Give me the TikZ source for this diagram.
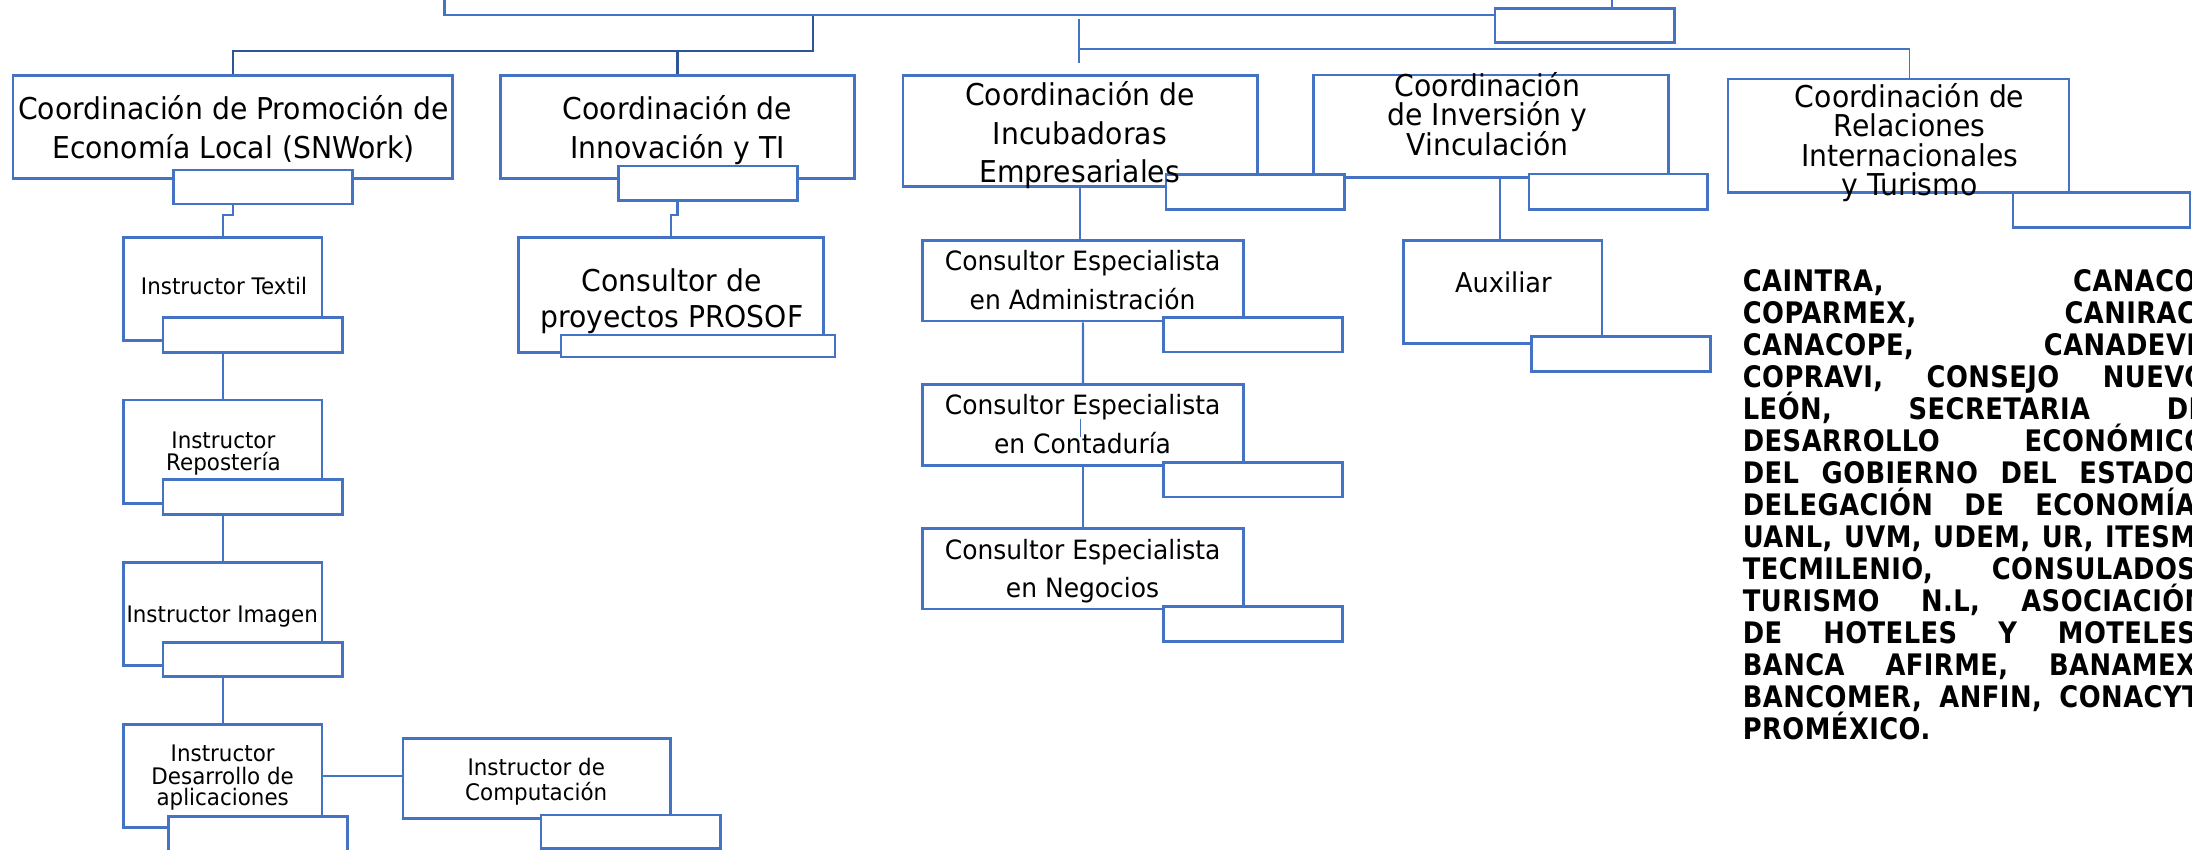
\documentclass[tikz,border=0pt]{standalone}
\usepackage{fontspec}
\setmainfont{DejaVu Sans}[FakeStretch=0.94]
\newfontfamily\blockfont{DejaVu Sans}[FakeStretch=0.87,LetterSpace=1.5]
\definecolor{ob}{HTML}{4472C4}
\definecolor{odark}{HTML}{2F5597}
\pgfdeclarelayer{bg}
\pgfsetlayers{bg,main}
\tikzset{
  box/.style={draw=ob, line width=1.9pt, rectangle, inner sep=0pt, fill=white},
  conn/.style={draw=ob, line width=1.6pt},
  darkconn/.style={draw=odark, line width=1.8pt},
  thinconn/.style={draw=ob, line width=1.1pt},
  ta/.style={anchor=base, inner sep=0pt, font=\fontsize{21.5}{26}\selectfont},
  tb/.style={anchor=base, inner sep=0pt, font=\fontsize{19}{23}\selectfont},
  tc/.style={anchor=base, inner sep=0pt, font=\fontsize{16.3}{19}\selectfont},
  bl/.style={anchor=base west, inner sep=0pt, font=\blockfont\bfseries\fontsize{21.2}{23}\selectfont},
}
\newcommand\mkbox[5]{\node[box, minimum width={(#4-(#2))*1pt}, minimum height={(#5-(#3))*1pt}] (#1) at ({(#2+#4)/2},{(#3+#5)/2}) {};}
\newcommand\bline[3]{\node[bl] (#1) at (1246.5,#2) {\hbox to 331.5pt{#3}};}
\begin{document}
\begin{tikzpicture}[x=1pt,y=-1pt]
\useasboundingbox (0,0) rectangle (1568,608);
\clip (0,0) rectangle (1568,608);
% main boxes
\mkbox{top}{318}{-20}{1153}{10.7}
\mkbox{prom}{9.3}{53.9}{323.7}{127.6}
\mkbox{innov}{358}{53.9}{611.4}{127.6}
\mkbox{incub}{646}{53.9}{899.5}{133.5}
\mkbox{inver}{939.4}{53.7}{1193.4}{127}
\mkbox{relac}{1236}{56.5}{1480}{137.8}
\mkbox{textil}{88.3}{169.8}{230.4}{243.7}
\mkbox{repos}{88.3}{286.1}{230.4}{360}
\mkbox{imagen}{88.3}{402.2}{230.4}{476.2}
\mkbox{desa}{88.3}{518.1}{230.4}{591.8}
\mkbox{comp}{288.2}{528.1}{479.4}{585.3}
\mkbox{prosof}{370.8}{170}{589}{252}
\mkbox{adm}{659.7}{172.2}{889.5}{229.6}
\mkbox{cont}{659.7}{274.9}{889.7}{333.1}
\mkbox{neg}{659.7}{377.9}{889.7}{435.6}
\mkbox{aux}{1004}{172.2}{1146}{245.8}
% small boxes
\mkbox{topsb}{1069.4}{6}{1197.6}{30.3}
\mkbox{promsb}{123.9}{121.6}{252}{145.9}
\mkbox{innovsb}{442.3}{118.7}{570.4}{143.5}
\mkbox{incubsb}{834}{125}{961.7}{149.7}
\mkbox{inversb}{1093.7}{124.5}{1221.3}{149.7}
\mkbox{relacsb}{1440}{137.8}{1566.5}{162.6}
\mkbox{textilsb}{116.6}{227}{245.1}{252}
\mkbox{repossb}{116.6}{342.9}{245.1}{367.9}
\mkbox{imagensb}{116.6}{459.5}{245.1}{484}
\mkbox{desasb}{120.5}{584.2}{248.4}{620}
\mkbox{compsb}{387}{583}{515.2}{606.8}
\mkbox{prosofsb}{401.3}{239.6}{597.3}{255.3}
\mkbox{admsb}{832.3}{227.2}{960.4}{251.8}
\mkbox{contsb}{832.3}{331}{960.4}{355.5}
\mkbox{negsb}{832.3}{434}{960.4}{458.7}
\mkbox{auxsb}{1095.5}{240.8}{1223.5}{265.6}
% connectors
\coordinate (b1) at (581.6,36.5);
\coordinate (c1) at (772,13.6);
\coordinate (c2) at (772,44.8);
\coordinate (c3) at (772,35);
\coordinate (c4) at (1366,35);
\coordinate (ia) at (1073,0);
\begin{pgfonlayer}{bg}
\draw[darkconn] (top.south -| b1) -- (b1) -| (prom.north);
\draw[darkconn] (innov.north |- b1) -- (innov.north);
\draw[thinconn] (c1) -- (c2);
\draw[thinconn] (c3) -- (c4) -- (c4 |- relac.north);
\draw[conn] (promsb.south -| prom.south) -- ++(0,6.7) -| (textil.north);
\draw[conn] (innovsb.south -| innov.south) -- ++(0,9.1) -| (prosof.north);
\draw[conn] (textilsb.south -| textil.south) -- (repos.north);
\draw[conn] (repossb.south -| repos.south) -- (imagen.north);
\draw[conn] (imagensb.south -| imagen.south) -- (desa.north);
\draw[thinconn] (desa.east) -- (desa.east -| comp.west);
\draw[conn] (incub.south) -- (incub.south |- adm.north);
\draw[conn] (adm.south) -- (cont.north);
\draw[conn] (cont.south) -- (neg.north);
\draw[conn] (inver.south -| ia) -- (aux.north -| ia);
\end{pgfonlayer}
\coordinate (art1) at (773,299.7);
\coordinate (art2) at (773,312.4);
\draw[thinconn] (art1) -- (art2);
% texts
\node[ta] (promA) at (167,85.8) {Coordinación de Promoción de};
\node[ta] (promB) at (167,113.2) {Economía Local (SNWork)};
\node[ta] (innovA) at (484.7,85.8) {Coordinación de};
\node[ta] (innovB) at (484.7,113.2) {Innovación y TI};
\node[ta] (incubA) at (772.4,75.8) {Coordinación de};
\node[ta] (incubB) at (772.4,103.7) {Incubadoras};
\node[ta] (incubC) at (772.4,130.7) {Empresariales};
\node[ta] (inverA) at (1064,69.2) {Coordinación};
\node[ta] (inverB) at (1064,90.1) {de Inversión y};
\node[ta] (inverC) at (1064,110.9) {Vinculación};
\node[ta] (relacA) at (1366,76.8) {Coordinación de};
\node[ta] (relacB) at (1366,97.8) {Relaciones};
\node[ta] (relacC) at (1366,119.2) {Internacionales};
\node[ta] (relacD) at (1366,139.5) {y Turismo};
\node[tc] (textilA) at (160.2,211) {Instructor Textil};
\node[tc] (reposA) at (159.8,320.7) {Instructor};
\node[tc] (reposB) at (159.8,336.7) {Repostería};
\node[tc] (imagenA) at (159,445.4) {Instructor Imagen};
\node[tc] (desaA) at (159.3,544.8) {Instructor};
\node[tc] (desaB) at (159.3,561.5) {Desarrollo de};
\node[tc] (desaC) at (159.3,576.5) {aplicaciones};
\node[tc] (compA) at (383.6,554.6) {Instructor de};
\node[tc] (compB) at (383.6,572.5) {Computación};
\node[ta] (prosofA) at (480.5,208.6) {Consultor de};
\node[ta] (prosofB) at (480.5,234.1) {proyectos PROSOF};
\node[tb] (admA) at (774.4,193.6) {Consultor Especialista};
\node[tb] (admB) at (774.4,221.3) {en Administración};
\node[tb] (contA) at (774.4,296.4) {Consultor Especialista};
\node[tb] (contB) at (774.4,324.3) {en Contaduría};
\node[tb] (negA) at (774.4,399.9) {Consultor Especialista};
\node[tb] (negB) at (774.4,427.5) {en Negocios};
\node[tb, font=\fontsize{19.5}{23}\selectfont] (auxA) at (1075.4,209.3) {Auxiliar};
% organisation list
\bline{l1}{208.6}{CAINTRA,\hfill CANACO,}
\bline{l2}{231.5}{COPARMEX,\hfill CANIRAC,}
\bline{l3}{254.4}{CANACOPE,\hfill CANADEVI,}
\bline{l4}{277.2}{COPRAVI,\hfill CONSEJO\hfill NUEVO}
\bline{l5}{300.1}{LEÓN,\hfill SECRETARIA\hfill DE}
\bline{l6}{323.0}{DESARROLLO\hfill ECONÓMICO}
\bline{l7}{345.9}{DEL\hfill GOBIERNO\hfill DEL\hfill ESTADO,}
\bline{l8}{368.8}{DELEGACIÓN\hfill DE\hfill ECONOMÍA,}
\bline{l9}{391.6}{UANL,\hfill UVM,\hfill UDEM,\hfill UR,\hfill ITESM,}
\bline{l10}{414.5}{TECMILENIO,\hfill CONSULADOS,}
\bline{l11}{437.4}{TURISMO\hfill N.L,\hfill ASOCIACIÓN}
\bline{l12}{460.3}{DE\hfill HOTELES\hfill Y\hfill MOTELES,}
\bline{l13}{483.2}{BANCA\hfill AFIRME,\hfill BANAMEX,}
\bline{l14}{506.0}{BANCOMER,\hfill ANFIN,\hfill CONACYT,}
\node[bl] (l15) at (1246.5,528.9) {PROMÉXICO.};
\end{tikzpicture}
\end{document}
